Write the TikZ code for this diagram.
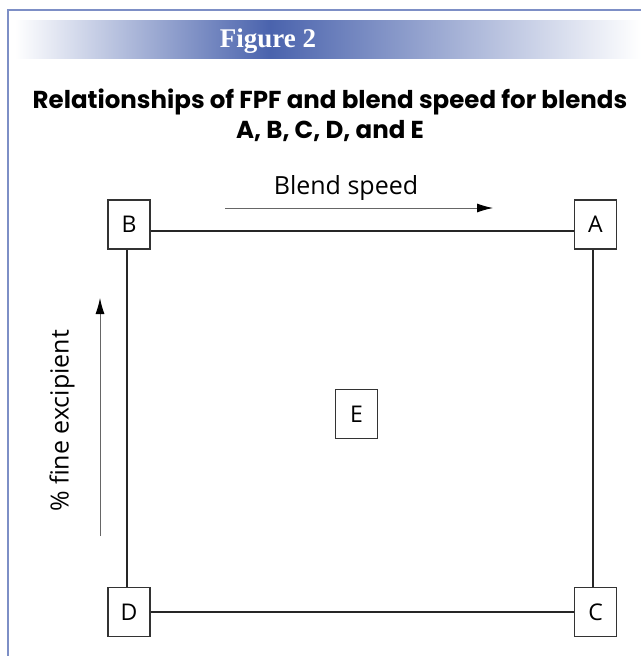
\documentclass[tikz,border=0pt]{standalone}
\usepackage{fontspec}
\setmainfont{Open Sans}
\newfontfamily\titlefont{Poppins}
\newfontfamily\figfont{Liberation Serif}
\usetikzlibrary{arrows.meta}
\definecolor{hdrblue}{HTML}{4A63AD}
\definecolor{framec}{HTML}{7D8FC6}
\definecolor{linegray}{HTML}{666666}
\tikzset{
  lbox/.style={draw=black!80, line width=1.3pt, fill=white, minimum width=42pt, minimum height=49pt, inner sep=0pt, font=\fontsize{23}{23}\selectfont},
  conn/.style={draw=black!85, line width=1.2pt},
  axisarrow/.style={draw=linegray, line width=0.9pt, -{Latex[length=16pt,width=9pt,fill=black,color=black]}},
}
\begin{document}
\begin{tikzpicture}[x=1pt,y=-1pt]
\useasboundingbox (0,0) rectangle (641,656);
\fill[white] (0,0) rectangle (641,656);
% frame
\draw[framec, line width=1.2pt] (8,656) -- (8,10) -- (641,10);
% header gradient
\shade[left color=white, right color=hdrblue] (15,20) rectangle (270,58);
\shade[left color=hdrblue, right color=white] (270,20) rectangle (641,58);
\node[text=white, font=\figfont\bfseries\fontsize{27}{27}\selectfont] (fig) at (268,41) {Figure 2};
% title
\node[font=\titlefont\bfseries\fontsize{24.5}{30}\selectfont, align=center] (title) at (330,115) {Relationships of FPF and blend speed for blends\\A, B, C, D, and E};
% boxes
\node[lbox] (B) at (129,224.5) {B};
\node[lbox] (A) at (595.5,224.5) {A};
\node[lbox] (D) at (129,612) {D};
\node[lbox] (C) at (595.5,612) {C};
\node[lbox] (E) at (356.5,414) {E};
% connectors
\draw[conn, line width=1.8pt] (B.east |- 0,231) -- (A.west |- 0,231);
\draw[conn] (B.south -| 127,0) -- (D.north -| 127,0);
\draw[conn] (A.south -| 593,0) -- (C.north -| 593,0);
\draw[conn] (D.east) -- (C.west);
% axis arrows
\coordinate (hs) at (225,208);
\coordinate (he) at (493,208);
\draw[axisarrow] (hs) -- (he);
\node[font=\fontsize{25}{25}\selectfont] (bs) at (346,188) {Blend speed};
\coordinate (vs) at (100,536);
\coordinate (ve) at (100,298);
\draw[axisarrow] (vs) -- (ve);
\node[rotate=90, font=\fontsize{25}{25}\selectfont] (fe) at (62,421) {\% fine excipient};
\end{tikzpicture}
\end{document}
